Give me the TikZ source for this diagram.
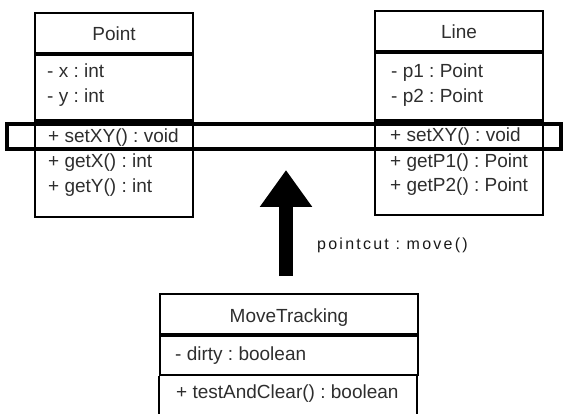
\documentclass[tikz,border=0pt]{standalone}
\usepackage{fontspec}
\setmainfont{Liberation Sans}
\newfontfamily\cutfont[LetterSpace=14]{Liberation Sans}
\usetikzlibrary{arrows.meta}
\frenchspacing
\begin{document}
\begin{tikzpicture}[x=1pt,y=-1pt,
  every node/.style={font=\frenchspacing\fontsize{19}{25}\selectfont, text=black!82},
  boxline/.style={draw=black, line width=2pt},
  comp/.style={boxline, inner sep=0pt, anchor=north west},
  hdr/.style={comp, text height=18pt, text depth=2pt},
  row/.style={anchor=base west, inner sep=0pt},
]
\useasboundingbox (0,0) rectangle (565,414);

% ---- Point ----
\node[hdr, minimum width=158pt, minimum height=40pt] (pointH) at (34,12) {Point};
\node[comp, minimum width=158pt, minimum height=65pt] (pointA) at (pointH.south west) {};
\node[comp, minimum width=158pt, minimum height=95pt] (pointM) at (pointA.south west) {};
\node[row] (px)  at (47,78)  {- x : int};
\node[row] (py)  at (47,103) {- y : int};
\node[row] (pset) at (48,143) {+ setXY() : void};
\node[row] (pgx) at (48,168) {+ getX() : int};
\node[row] (pgy) at (48,193) {+ getY() : int};

% ---- Line ----
\node[hdr, minimum width=168pt, minimum height=40pt] (lineH) at (374,10) {Line};
\node[comp, minimum width=168pt, minimum height=67pt] (lineA) at (lineH.south west) {};
\node[comp, minimum width=168pt, minimum height=93pt] (lineM) at (lineA.south west) {};
\node[row] (lp1)  at (391,78)  {- p1 : Point};
\node[row] (lp2)  at (391,103) {- p2 : Point};
\node[row] (lset) at (390,142) {+ setXY() : void};
\node[row] (lg1)  at (390,168) {+ getP1() : Point};
\node[row] (lg2)  at (390,192) {+ getP2() : Point};

% ---- MoveTracking ----
\node[hdr, minimum width=258pt, minimum height=40pt] (mtH) at (159,293) {MoveTracking};
\node[comp, minimum width=258pt, minimum height=39pt] (mtA) at (mtH.south west) {};
\node[anchor=north west, inner sep=0pt, minimum width=258pt, minimum height=42pt] (mtM) at (mtA.south west) {};
\draw[boxline] (mtM.south west) -- (mtM.north west) (mtM.north east) -- (mtM.south east);
\node[row] (mtd) at (175,360) {- dirty : boolean};
\node[row] (mtt) at (176,398) {+ testAndClear() : boolean};

% ---- highlighted join point row ----
\node[draw=black, line width=4pt, inner sep=0pt, minimum width=554pt, minimum height=25pt] (focus) at (284,136.5) {};

% ---- pointcut arrow ----
\coordinate (tail) at (286,276);
\coordinate (tip) at (286,170);
\draw[line width=14pt, -{Triangle[width=50pt,length=37pt]}] (tail) -- (tip);
\node[row, font=\cutfont\fontsize{16}{18}\selectfont, text=black!90] (cut) at (317,250) {pointcut : move()};
\end{tikzpicture}
\end{document}
